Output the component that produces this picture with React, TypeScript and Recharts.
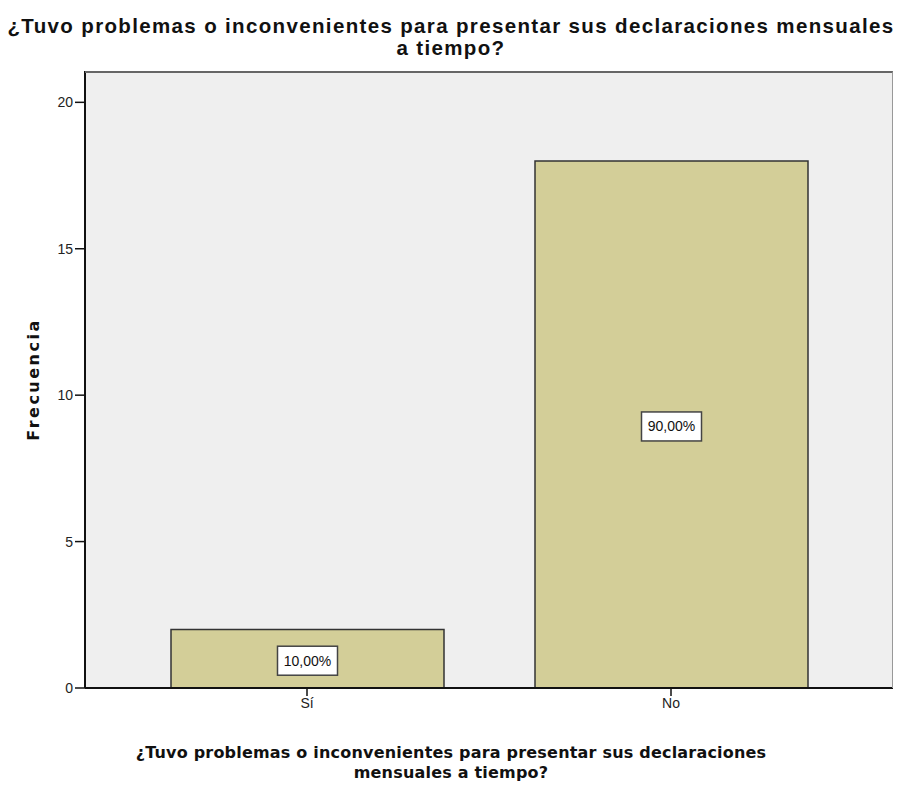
import React from "react";
import { BarChart, Bar, XAxis, YAxis, CartesianGrid, LabelList } from "recharts";

const categories = ["Sí", "No"];
const frequencies = [2, 18];
const percentLabels = ["10,00%", "90,00%"];
const yTicks = [0, 5, 10, 15, 20];

const data = categories.map((c, i) => ({ cat: c, freq: frequencies[i], pct: percentLabels[i] }));

const arial = "'Liberation Sans', Arial, sans-serif";
const wide = "'DejaVu Sans', Verdana, sans-serif";

const PctLabel = (props: any) => {
  const { x, y, width, height, value } = props;
  const cx = x + width / 2;
  const cy = y + height / 2 + 2;
  const w = 60;
  const h = 29;
  return (
    <g>
      <rect x={cx - w / 2} y={cy - h / 2} width={w} height={h} fill="#ffffff" stroke="#444" strokeWidth={1.5} />
      <text x={cx} y={cy + 5} textAnchor="middle" fontFamily={arial} fontSize={14} fill="#111">
        {value}
      </text>
    </g>
  );
};

export default function App() {
  return (
    <div style={{ position: "absolute", left: 0, top: 0, width: 902, height: 789, background: "#fff" }}>
      <div
        style={{
          position: "absolute",
          left: 0,
          top: 15,
          width: 902,
          textAlign: "center",
          fontFamily: arial,
          fontWeight: "bold",
          fontSize: 20.5,
          letterSpacing: 1.35,
          lineHeight: "22px",
          color: "#111",
        }}
      >
        ¿Tuvo problemas o inconvenientes para presentar sus declaraciones mensuales
        <br />a tiempo?
      </div>
      <BarChart
        width={902}
        height={789}
        data={data}
        margin={{ top: 71, right: 9, left: 0, bottom: 71 }}
        barCategoryGap={0}
      >
        <CartesianGrid fill="#efefef" horizontal={false} vertical={false} />
        <XAxis
          dataKey="cat"
          height={30}
          padding={{ left: 40, right: 40 }}
          axisLine={{ stroke: "#111", strokeWidth: 2 }}
          tickLine={{ stroke: "#111", strokeWidth: 1.5 }}
          tickSize={8}
          tick={{ fill: "#222", fontFamily: arial, fontSize: 14 }}
        />
        <YAxis
          domain={[0, 21.07]}
          ticks={yTicks}
          width={85}
          axisLine={{ stroke: "#111", strokeWidth: 2 }}
          tickLine={{ stroke: "#111", strokeWidth: 1.5 }}
          tickSize={10}
          tick={{ fill: "#222", fontFamily: arial, fontSize: 14 }}
          label={{
            value: "Frecuencia",
            angle: -90,
            position: "insideLeft",
            offset: 33,
            style: {
              textAnchor: "middle",
              fontFamily: wide,
              fontWeight: "bold",
              fontSize: 16,
              letterSpacing: 2.5,
              fill: "#111",
            },
          }}
        />
        <Bar
          dataKey="freq"
          barSize={273}
          fill="#d3ce98"
          stroke="#333"
          strokeWidth={1.5}
          isAnimationActive={false}
        >
          <LabelList dataKey="pct" content={PctLabel} />
        </Bar>
      </BarChart>
      <div
        style={{
          position: "absolute",
          left: 85,
          top: 71,
          width: 808,
          height: 617,
          boxSizing: "border-box",
          borderTop: "2px solid #666",
          borderRight: "1.5px solid #999",
          pointerEvents: "none",
        }}
      />
      <div
        style={{
          position: "absolute",
          left: 0,
          top: 743,
          width: 902,
          textAlign: "center",
          fontFamily: wide,
          fontWeight: "bold",
          fontSize: 16,
          letterSpacing: 0.2,
          lineHeight: "20px",
          color: "#111",
        }}
      >
        ¿Tuvo problemas o inconvenientes para presentar sus declaraciones
        <br />
        mensuales a tiempo?
      </div>
    </div>
  );
}
